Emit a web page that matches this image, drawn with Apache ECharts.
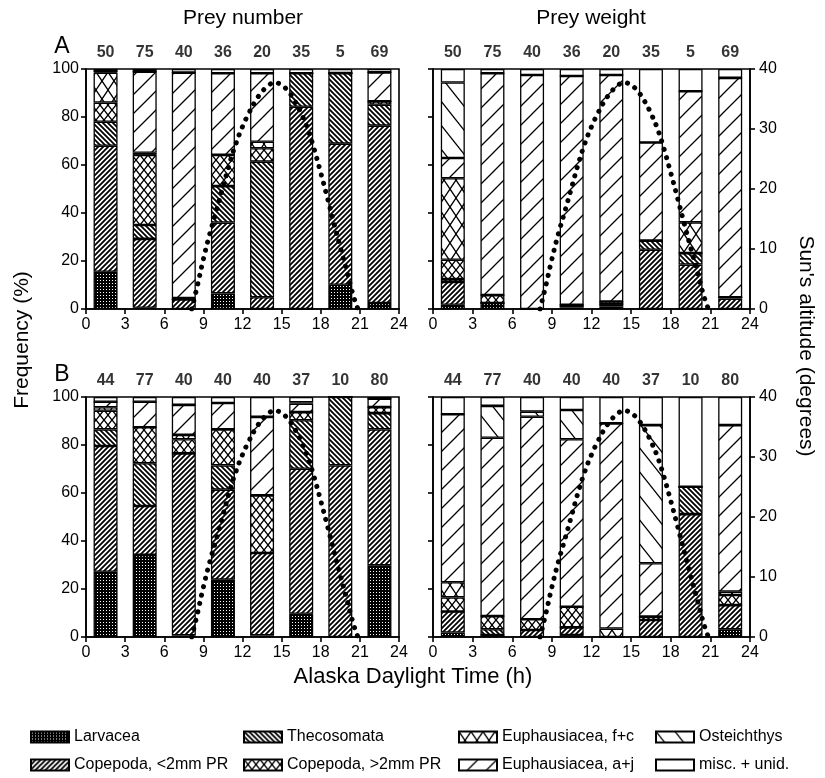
<!DOCTYPE html>
<html><head><meta charset="utf-8">
<script src="https://cdn.jsdelivr.net/npm/echarts@6/dist/echarts.min.js"></script>
<style>html,body{margin:0;padding:0;background:#fff}#c{width:825px;height:778px}</style>
</head><body><div id="c"></div>
<script>
// ---------------- DATA ----------------
const hours = [1.5, 4.5, 7.5, 10.5, 13.5, 16.5, 19.5, 22.5];
const taxa = ['Larvacea', 'Copepoda, <2mm PR', 'Thecosomata', 'Copepoda, >2mm PR',
              'Euphausiacea, f+c', 'Euphausiacea, a+j', 'Osteichthys', 'misc. + unid.'];
const nA = [50, 75, 40, 36, 20, 35, 5, 69];
const nB = [44, 77, 40, 40, 40, 37, 10, 80];
// rows follow taxa order, columns follow hours
const numberA = [
  [15.5, 0.5, 0, 6.5, 0, 0, 10.1, 2.5],
  [52.5, 28.7, 4, 29.5, 4.9, 84.3, 58.8, 73.9],
  [10, 5.8, 0, 15.2, 56.5, 13.9, 29.4, 8.7],
  [8, 29.2, 0, 13, 5.6, 0, 0, 1.4],
  [12.5, 0.9, 0.6, 0, 2.7, 0, 0, 0],
  [0.5, 33.8, 93.9, 34, 28.5, 0, 0, 12.1],
  [0, 0, 0, 0, 0, 0, 0, 0],
  [1, 1.1, 1.5, 1.8, 1.8, 1.8, 1.7, 1.4]
];
const weightA = [
  [1.8, 2.5, 0, 0.6, 1, 0, 0, 0],
  [9.5, 0, 0, 0.6, 1, 24.7, 18.5, 4.3],
  [1.2, 0, 0, 0, 0, 3.8, 4.8, 0.6],
  [8, 3.3, 0, 0.6, 1.1, 0, 0, 0],
  [34, 0, 0, 0, 0, 0, 12.8, 0],
  [8.4, 92.4, 97.5, 95.3, 94.4, 40.9, 54.6, 91.4],
  [31.5, 0, 0, 0, 0, 0, 0, 0],
  [5.6, 1.8, 2.5, 2.9, 2.5, 30.6, 9.3, 3.7]
];
const numberB = [
  [27.2, 34.2, 0.7, 23.9, 0.7, 9.7, 0, 29.9],
  [52.4, 20.4, 75.8, 37.5, 34.3, 60.4, 71.5, 56.6],
  [6.9, 17.8, 0, 10.1, 0, 20.2, 28.5, 6.8],
  [7.8, 15, 5.9, 15, 24, 3.4, 0, 2.5],
  [1.4, 0, 1.8, 0, 0, 0, 0, 0],
  [2.3, 10.6, 12.5, 11, 32.7, 3.5, 0, 3.5],
  [0, 0, 0, 0, 0, 0.6, 0, 0],
  [2, 2, 3.3, 2.5, 8.3, 2.2, 0, 0.7]
];
const weightB = [
  [1.9, 0.8, 0, 0.8, 0, 0, 0, 3.2],
  [8.7, 0, 2.9, 3.2, 0, 7.1, 51.2, 10.1],
  [0, 2.4, 0, 0, 0, 1.4, 11.4, 0],
  [5.9, 5.5, 4.5, 8.6, 0, 0, 0, 4.2],
  [6.3, 0, 0, 0, 3.5, 0, 0, 1.4],
  [70, 74.3, 84.4, 69.8, 85.5, 22.2, 0, 69.4],
  [0, 13.3, 2.1, 12.2, 0, 57.6, 0, 0],
  [7.2, 3.7, 6.1, 5.4, 11, 11.7, 37.4, 11.7]
];
const sunHour = [8.1, 8.5, 9, 9.5, 10, 10.5, 11, 11.5, 12, 12.5, 13, 13.5, 14, 14.5, 15,
                 15.5, 16, 16.5, 17, 17.5, 18, 18.5, 19, 19.5, 20, 20.5, 20.85];
const sunAlt = [0, 3.5, 8.3, 12.6, 16.4, 20.3, 24.2, 27.6, 30.4, 32.7, 34.7, 36.2, 37.3, 37.7, 37.3,
                36.3, 34.7, 32.6, 30.0, 26.6, 22.7, 18.6, 14.4, 10.3, 6.3, 2.2, 0];

// ---------------- PATTERNS ----------------
function tile(w, h, draw) {
  const c = document.createElement('canvas'); c.width = w; c.height = h;
  const g = c.getContext('2d');
  g.fillStyle = '#fff'; g.fillRect(0, 0, w, h);
  g.strokeStyle = '#000'; g.fillStyle = '#000';
  draw(g, w, h);
  return { image: c, repeat: 'repeat' };
}
function lines(g, w, h, lw, dir) {
  g.lineWidth = lw; g.beginPath();
  for (let k = -1; k <= 1; k++) {
    const o = k * w;
    if (dir > 0) { g.moveTo(o - w, 2 * h); g.lineTo(o + 2 * w, -h); }
    else { g.moveTo(o - w, -h); g.lineTo(o + 2 * w, 2 * h); }
  }
  g.stroke();
}
const patterns = [
  tile(3, 3, (g) => { g.fillRect(0, 0, 3, 3); g.fillStyle = '#fff'; g.fillRect(1, 1, 1, 1); }),
  tile(5, 5, (g, w, h) => lines(g, w, h, 1.8, 1)),
  tile(5, 5, (g, w, h) => lines(g, w, h, 1.8, -1)),
  tile(8, 10, (g, w, h) => { lines(g, w, h, 1.4, 1); lines(g, w, h, 1.4, -1); }),
  tile(12, 18, (g, w, h) => { lines(g, w, h, 1.3, 1); lines(g, w, h, 1.3, -1); }),
  tile(19, 19, (g, w, h) => lines(g, w, h, 1.3, 1)),
  tile(19, 24, (g, w, h) => lines(g, w, h, 1.3, -1)),
  '#ffffff'
];

// ---------------- CHART ----------------
const chart = echarts.init(document.getElementById('c'), null, { renderer: 'canvas' });
const font = 'Liberation Sans, Arial, sans-serif';
const grids = [
  { left: 86, top: 69, width: 313, height: 240 },
  { left: 433, top: 69, width: 317, height: 240 },
  { left: 86, top: 397, width: 313, height: 240 },
  { left: 433, top: 397, width: 317, height: 240 }
];
const panels = [numberA, weightA, numberB, weightB];
const ns = [nA, nA, nB, nB];
const axisLine = { show: true, lineStyle: { color: '#000', width: 1.6 } };
const axisTick = { show: true, inside: false, length: 5, lineStyle: { color: '#000', width: 1.6 } };

const xAxis = [], yAxis = [], series = [];
grids.forEach((gr, g) => {
  const isLeft = g % 2 === 0;
  // category axis carrying the bars (hidden), value axis carrying hours (shown)
  xAxis.push({ type: 'category', gridIndex: g, data: hours.map(String), boundaryGap: true, show: false });
  xAxis.push({
    type: 'value', gridIndex: g, min: 0, max: 24, interval: 3, position: 'bottom',
    axisLine, axisTick,
    axisLabel: { show: true, color: '#000', fontSize: 16, fontFamily: font, margin: 8, showMinLabel: true, showMaxLabel: true },
    splitLine: { show: false }
  });
  yAxis.push({
    type: 'value', gridIndex: g, min: 0, max: 100, interval: 20, position: 'left',
    axisLine, axisTick,
    axisLabel: { show: isLeft, color: '#000', fontSize: 16, fontFamily: font, margin: 7 },
    splitLine: { show: false }
  });
  yAxis.push({
    type: 'value', gridIndex: g, min: 0, max: 40, interval: 10, position: 'right',
    show: !isLeft, axisLine, axisTick,
    axisLabel: { show: true, color: '#000', fontSize: 16, fontFamily: font, margin: 9 },
    splitLine: { show: false }
  });
  const pdata = panels[g];
  taxa.forEach((name, t) => {
    series.push({
      type: 'bar', name, xAxisIndex: 2 * g, yAxisIndex: 2 * g, stack: 'p' + g, barWidth: 24,
      data: pdata[t].slice(),
      itemStyle: { color: patterns[t], borderColor: '#000', borderWidth: 1.3 },
      emphasis: { disabled: true }, silent: true
    });
  });
  series.push({
    type: 'line', xAxisIndex: 2 * g + 1, yAxisIndex: 2 * g + 1, z: 10,
    data: sunHour.map((h, i) => [h, sunAlt[i]]),
    smooth: true, showSymbol: false, symbol: 'none', silent: true,
    lineStyle: { color: '#000', width: 5, type: [0.1, 8.5], cap: 'round' }
  });
  const nn = ns[g];
  series.push({
    type: 'scatter', xAxisIndex: 2 * g + 1, yAxisIndex: 2 * g, clip: false, symbolSize: 0, silent: true,
    data: hours.map((h) => [h, 100]),
    label: { show: true, position: 'top', distance: 8, color: '#000', fontSize: 16,
             fontWeight: 'bold', fontFamily: font, formatter: (p) => String(nn[p.dataIndex]) }
  });
});

const legendCommon = {
  orient: 'vertical', top: 729, itemWidth: 38, itemHeight: 11, itemGap: 12, icon: 'rect',
  selectedMode: false, textStyle: { color: '#000', fontSize: 16, fontFamily: font }, padding: 0
};
const legendLefts = [30, 243, 458, 655];
const legend = legendLefts.map((l, k) => Object.assign({}, legendCommon, {
  left: l, data: [taxa[2 * k], taxa[2 * k + 1]]
}));

const txt = (x, y, text, size, extra) => Object.assign({
  type: 'text', x, y, silent: true,
  style: Object.assign({ text, fill: '#000', fontSize: size, fontFamily: font,
    textAlign: 'center', textVerticalAlign: 'middle' }, extra || {})
});

chart.setOption({
  animation: false,
  backgroundColor: '#fff',
  grid: grids.map((gr) => Object.assign({ show: true, borderColor: '#000', borderWidth: 1.6, backgroundColor: 'transparent', containLabel: false }, gr)),
  xAxis, yAxis, series, legend,
  graphic: [
    txt(243, 18, 'Prey number', 21),
    txt(591, 18, 'Prey weight', 21),
    txt(62, 47, 'A', 23),
    txt(62, 375, 'B', 23),
    txt(413, 677, 'Alaska Daylight Time (h)', 22),
    Object.assign(txt(0, 0, 'Frequency (%)', 21), { x: 22, y: 340, rotation: Math.PI / 2 }),
    Object.assign(txt(0, 0, "Sun's altitude (degrees)", 21), { x: 806, y: 346, rotation: -Math.PI / 2 })
  ]
});
</script></body></html>
